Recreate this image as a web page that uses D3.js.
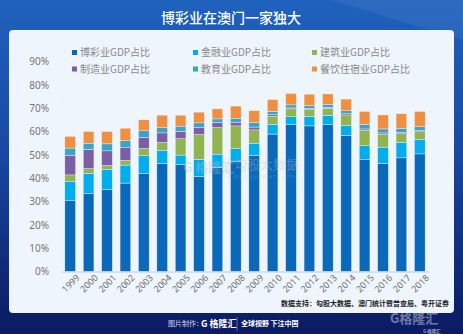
<!DOCTYPE html>
<html>
<head>
<meta charset="utf-8">
<script src="https://cdn.jsdelivr.net/npm/d3@7"></script>
<style>
  html, body { margin: 0; padding: 0; background: #0d2a7a; }
  svg { display: block; font-family: "Noto Sans CJK SC", "Noto Sans", sans-serif; }
</style>
</head>
<body>
<div id="chart"></div>
<script>
// chart data
const YEARS = ["1999","2000","2001","2002","2003","2004","2005","2006","2007","2008",
               "2009","2010","2011","2012","2013","2014","2015","2016","2017","2018"];
const GAMBLING = [30.3,33.3,35.1,37.9,42.1,46.3,45.8,40.7,44.6,47.3,49.7,58.9,62.9,62.4,62.9,58.3,47.9,46.3,48.7,50.4];
const FINANCE = [8.4,8.8,8.6,7.7,7.5,5.6,4.1,7.3,5.7,5.3,5.3,4.1,3.4,4.0,4.0,4.3,6.0,7.0,6.7,6.3];
const CONSTRUCTION = [2.7,2.0,1.7,2.0,3.1,3.4,7.0,10.7,11.4,9.8,5.7,3.6,3.4,3.2,3.1,4.5,6.7,5.6,3.7,3.2];
const MANUFACTURING = [8.3,8.2,6.3,5.5,4.7,4.1,3.2,3.0,2.2,1.6,1.2,0.7,0.4,0.4,0.4,0.5,0.5,0.5,0.6,0.5];
const EDUCATION = [3.2,2.7,3.0,3.0,2.9,2.2,2.2,2.0,1.5,1.7,2.0,1.4,1.3,1.1,1.2,1.3,1.9,1.7,1.7,1.7];
const HOSPITALITY = [5.0,5.0,5.3,5.3,4.7,5.4,4.7,4.6,4.3,5.2,5.0,5.0,4.9,4.9,4.5,5.0,5.6,6.0,6.2,6.5];
const SERIES = ["博彩业GDP占比","金融业GDP占比","建筑业GDP占比","制造业GDP占比","教育业GDP占比","餐饮住宿业GDP占比"];
const Y_TICKS = [0,10,20,30,40,50,60,70,80,90];

const COLORS = ["#0a69ba","#00adee","#92b450","#7b5ea6","#3aa3c7","#ef8f3f"];

const FRAME_WIDTH = 463;
const FRAME_HEIGHT = 334;

const svg = d3.select("#chart").append("svg")
  .attr("width", FRAME_WIDTH)
  .attr("height", FRAME_HEIGHT);

// background gradient
const defs = svg.append("defs");
const bg = defs.append("linearGradient").attr("id","bg")
  .attr("x1","0").attr("y1","0").attr("x2","0").attr("y2","1");
bg.append("stop").attr("offset","0").attr("stop-color","#1f62bd");
bg.append("stop").attr("offset","0.45").attr("stop-color","#1749a3");
bg.append("stop").attr("offset","1").attr("stop-color","#0b1a62");

svg.append("rect").attr("width",FRAME_WIDTH).attr("height",FRAME_HEIGHT).attr("fill","url(#bg)");
// lighter diagonal at top right
svg.append("path")
  .attr("d","M330,0 L463,0 L463,40 Z")
  .attr("fill","#ffffff").attr("opacity",0.06);

// white panel
svg.append("rect")
  .attr("x",9).attr("y",30).attr("width",445).attr("height",283)
  .attr("rx",4).attr("fill","#eef5fc");

// title
svg.append("text")
  .attr("x",231).attr("y",18).attr("dy","0.35em")
  .attr("text-anchor","middle").attr("fill","#ffffff")
  .attr("font-size",14).attr("font-weight",500)
  .text("博彩业在澳门一家独大");

// scales
const X_SCALE = d3.scaleBand().domain(YEARS).range([61,429]).paddingInner(0.42).paddingOuter(0.21);
const Y_SCALE = d3.scaleLinear().domain([0,90]).range([271.5,61.5]);

// stacked data
const table = YEARS.map((y,i) => ({
  year: y,
  s0: GAMBLING[i], s1: FINANCE[i], s2: CONSTRUCTION[i],
  s3: MANUFACTURING[i], s4: EDUCATION[i], s5: HOSPITALITY[i]
}));
const stack = d3.stack().keys(["s0","s1","s2","s3","s4","s5"])(table);

const g = svg.append("g");
stack.forEach((layer,k) => {
  g.selectAll(".bar"+k)
    .data(layer)
    .enter().append("rect")
      .attr("class","bar"+k)
      .attr("x", d => X_SCALE(d.data.year))
      .attr("y", d => Y_SCALE(d[1]))
      .attr("width", X_SCALE.bandwidth())
      .attr("height", d => Y_SCALE(d[0]) - Y_SCALE(d[1]))
      .attr("fill", COLORS[k])
      .attr("stroke","#eef5fc").attr("stroke-width",0.4);
});

// y-axis labels
const yAxis = svg.append("g")
  .attr("transform","translate(52,0)")
  .call(d3.axisLeft(Y_SCALE).tickValues(Y_TICKS).tickSize(0).tickFormat(d => d + "%"));
yAxis.select(".domain").remove();
yAxis.selectAll("text").attr("fill","#767676").attr("font-size",10)
  .attr("font-family","'Noto Sans', sans-serif");

// x-axis
const xAxis = svg.append("g")
  .attr("transform","translate(0,271.5)")
  .call(d3.axisBottom(X_SCALE).tickSize(0));
xAxis.select(".domain").attr("stroke","#c8ccd2").attr("stroke-width",1);
xAxis.selectAll("text")
  .attr("fill","#6e6e6e").attr("font-size",9)
  .attr("font-family","'Noto Sans', sans-serif")
  .attr("text-anchor","end")
  .attr("transform","translate(4,1) rotate(-45)")
  .attr("dy","0.6em").attr("dx","0");

// legend
const LEG_X = [72,193,312];
const LEG_Y = [52.5,69];
SERIES.forEach((name,i) => {
  const lx = LEG_X[i % 3], ly = LEG_Y[Math.floor(i / 3)];
  svg.append("rect").attr("x",lx).attr("y",ly-2.5).attr("width",5).attr("height",5).attr("fill",COLORS[i]);
  svg.append("text").attr("x",lx+8).attr("y",ly).attr("dy","0.35em")
    .attr("font-size",10).attr("fill","#8a8a8a").text(name);
});

// watermarks
const wm = svg.append("g").attr("opacity",0.35);
wm.append("text").attr("x",183).attr("y",167).attr("dy","0.35em")
  .attr("font-size",13).attr("font-weight",700).attr("fill","#b8c0cc").text("G 格隆汇");
wm.append("line").attr("x1",229).attr("x2",229).attr("y1",157).attr("y2",179)
  .attr("stroke","#b8c0cc").attr("stroke-width",1);
wm.append("text").attr("x",234).attr("y",164).attr("dy","0.35em")
  .attr("font-size",13).attr("fill","#b8c0cc").text("勾股大数据");
wm.append("text").attr("x",234).attr("y",177).attr("dy","0.35em")
  .attr("font-size",4).attr("fill","#b8c0cc").attr("letter-spacing",1.5).text("www.gogudata.com");

// data source
svg.append("text").attr("x",449).attr("y",304).attr("dy","0.35em")
  .attr("text-anchor","end").attr("font-size",7).attr("font-weight",700)
  .attr("fill","#222").text("数据支持：勾股大数据、澳门统计暨普查局、粤开证券");

// footer
const foot = svg.append("g").attr("fill","#ffffff").attr("font-size",7);
foot.append("text").attr("x",168).attr("y",324).attr("dy","0.35em").attr("opacity",0.8).text("图片制作：");
foot.append("text").attr("x",201).attr("y",324).attr("dy","0.35em").attr("font-weight",700).attr("font-size",9).text("G 格隆汇");
foot.append("line").attr("x1",237).attr("x2",237).attr("y1",317).attr("y2",331).attr("stroke","#ffffff").attr("stroke-width",0.6).attr("opacity",0.6);
foot.append("text").attr("x",241).attr("y",324).attr("dy","0.35em").attr("font-weight",700).text("全球视野 下注中国");

// big logo bottom right
svg.append("text").attr("x",390).attr("y",318.5).attr("dy","0.35em")
  .attr("font-size",13).attr("font-weight",700).attr("fill","#ffffff").attr("opacity",0.4).text("G格隆汇");
svg.append("text").attr("x",432).attr("y",331).attr("dy","0.35em").attr("text-anchor","middle")
  .attr("font-size",4.5).attr("font-weight",700).attr("fill","#ffffff").attr("opacity",0.55).text("G 格隆汇");
</script>
</body>
</html>
